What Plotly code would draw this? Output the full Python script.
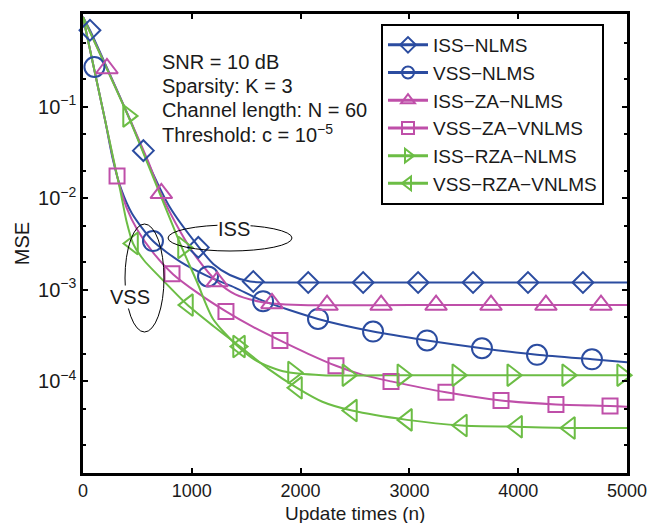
import plotly.graph_objects as go

# ---------------- data ----------------
names = ["ISS−NLMS", "VSS−NLMS", "ISS−ZA−NLMS", "VSS−ZA−VNLMS", "ISS−RZA−NLMS", "VSS−RZA−VNLMS"]
colors = ["#2b4ca0", "#2b4ca0", "#bf4fa9", "#bf4fa9", "#6cbd45", "#6cbd45"]
symbols = ["diamond-open", "circle-open", "triangle-up-open", "square-open", "triangle-right-open", "triangle-left-open"]
marker_sizes = [16, 20, 19, 15, 19, 19]

iss_nlms_n = [0, 64, 200, 432, 600, 800, 1057, 1200, 1350, 1535, 1800, 2500, 3500, 5000]
iss_nlms_mse = [0.95, 0.68, 0.30, 0.072, 0.024, 0.0079, 0.0030, 0.0019, 0.00145, 0.00123, 0.0012, 0.0012, 0.0012, 0.0012]
iss_nlms_mk_n = [64, 555, 1060, 1565, 2070, 2575, 3080, 3585, 4090, 4595]
iss_nlms_mk = [0.68, 0.033, 0.0029, 0.00123, 0.0012, 0.0012, 0.0012, 0.0012, 0.0012, 0.0012]

vss_nlms_n = [0, 202, 276, 350, 450, 643, 900, 1149, 1400, 1650, 2160, 2666, 3162, 3667, 4173, 4678, 5000]
vss_nlms_mse = [0.95, 0.072, 0.026, 0.0126, 0.0068, 0.0034, 0.0020, 0.0014, 0.00105, 0.00076, 0.00048, 0.00035,
                0.00028, 0.00023, 0.000195, 0.000174, 0.000162]
vss_nlms_mk_n = [105, 643, 1149, 1655, 2160, 2666, 3162, 3667, 4173, 4678]
vss_nlms_mk = [0.27, 0.0034, 0.0014, 0.00075, 0.00048, 0.00035, 0.00028, 0.00023, 0.000195, 0.000174]

iss_za_n = [0, 220, 432, 600, 708, 900, 1050, 1232, 1400, 1627, 1740, 2000, 3000, 4000, 5000]
iss_za_mse = [0.95, 0.26, 0.072, 0.025, 0.0117, 0.0042, 0.0022, 0.00123, 0.00089, 0.00074, 0.00071, 0.00068,
              0.00068, 0.00068, 0.00068]
iss_za_mk_n = [220, 720, 1232, 1737, 2243, 2740, 3245, 3750, 4255, 4761]
iss_za_mk = [0.26, 0.0113, 0.00123, 0.00071, 0.00068, 0.00068, 0.00068, 0.00068, 0.00068, 0.00068]

vss_za_n = [0, 202, 313, 400, 500, 650, 827, 1050, 1314, 1550, 1810, 2070, 2325, 2580, 2831, 3336, 3842, 4347, 4844, 5000]
vss_za_mse = [0.95, 0.072, 0.0174, 0.0079, 0.0045, 0.0025, 0.00148, 0.00093, 0.00058, 0.0004, 0.00028, 0.0002,
              0.000148, 0.000117, 0.0001, 0.000076, 0.000062, 0.000056, 0.000054, 0.000053]
vss_za_mk_n = [313, 818, 1314, 1810, 2325, 2831, 3336, 3842, 4347, 4844]
vss_za_mk = [0.0174, 0.0015, 0.00058, 0.00028, 0.000148, 0.0001, 0.000076, 0.000062, 0.000056, 0.000054]

iss_rza_n = [0, 414, 600, 892, 1050, 1195, 1425, 1600, 1838, 2200, 3000, 4000, 5000]
iss_rza_mse = [0.95, 0.079, 0.023, 0.0032, 0.0012, 0.00048, 0.00024, 0.000166, 0.000129, 0.000117, 0.000117,
               0.000117, 0.000117]
iss_rza_mk_n = [414, 919, 1425, 1930, 2430, 2935, 3440, 3945, 4450, 4955]
iss_rza_mk = [0.079, 0.0029, 0.00024, 0.000125, 0.000117, 0.000117, 0.000117, 0.000117, 0.000117, 0.000117]

vss_rza_n = [0, 202, 276, 340, 400, 460, 560, 700, 956, 1200, 1443, 1700, 1967, 2200, 2472, 2978, 3483, 3971, 4476, 5000]
vss_rza_mse = [0.95, 0.072, 0.028, 0.0126, 0.0056, 0.0032, 0.0021, 0.0014, 0.00069, 0.0004, 0.00024, 0.000138,
               0.000085, 0.00006, 0.000048, 0.000038, 0.000033, 0.000032, 0.000031, 0.000031]
vss_rza_mk_n = [460, 965, 1443, 1967, 2472, 2978, 3483, 3990, 4476]
vss_rza_mk = [0.0032, 0.00068, 0.00024, 0.000085, 0.000048, 0.000038, 0.000033, 0.000032, 0.000031]

x_ticks = [0, 1000, 2000, 3000, 4000, 5000]
y_ticks = [1e-1, 1e-2, 1e-3, 1e-4]
y_ticktext = ["10<sup>−1</sup>", "10<sup>−2</sup>", "10<sup>−3</sup>", "10<sup>−4</sup>"]
x_title = "Update times (n)"
y_title = "MSE"

series = [
    (iss_nlms_n, iss_nlms_mse, iss_nlms_mk_n, iss_nlms_mk),
    (vss_nlms_n, vss_nlms_mse, vss_nlms_mk_n, vss_nlms_mk),
    (iss_za_n, iss_za_mse, iss_za_mk_n, iss_za_mk),
    (vss_za_n, vss_za_mse, vss_za_mk_n, vss_za_mk),
    (iss_rza_n, iss_rza_mse, iss_rza_mk_n, iss_rza_mk),
    (vss_rza_n, vss_rza_mse, vss_rza_mk_n, vss_rza_mk),
]

FONT = "Liberation Sans, Arial, sans-serif"
TXT = "#1a1a1a"
FS = 20
fig = go.Figure()

for i, (n, m, mn, mm) in enumerate(series):
    fig.add_trace(go.Scatter(x=n, y=m, mode="lines", line=dict(color=colors[i], width=2, shape="spline", smoothing=0.7),
                             showlegend=False, hoverinfo="skip"))
for i, (n, m, mn, mm) in enumerate(series):
    fig.add_trace(go.Scatter(x=mn, y=mm, mode="markers", cliponaxis=False,
                             marker=dict(symbol=symbols[i], size=marker_sizes[i], color=colors[i],
                                         line=dict(width=2, color=colors[i])),
                             showlegend=False))
for i in range(len(names)):
    fig.add_trace(go.Scatter(x=[None], y=[None], mode="lines+markers", name=names[i], legendgroup=names[i],
                             line=dict(color=colors[i], width=3),
                             marker=dict(symbol=symbols[i], size=12, color=colors[i], line=dict(width=2, color=colors[i]))))

# page body has an 8px margin; plot area in reference pixels: x 83..627, y 14..473
OFF = 8
def px(xp):
    return (xp - 83) / 544.0
def py(yp):
    return (473 - yp) / 459.0

shapes = [
    dict(type="circle", xref="paper", yref="paper", x0=px(168), x1=px(292), y0=py(251), y1=py(225),
         line=dict(color="black", width=1)),
    dict(type="circle", xref="paper", yref="paper", x0=px(125), x1=px(164), y0=py(332), y1=py(224),
         line=dict(color="black", width=1)),
]

ann = []
info = ["SNR = 10 dB", "Sparsity: K = 3", "Channel length: N = 60", "Threshold: c = 10<sup>−5</sup>"]
info_y = [62, 86, 110, 134]
for t, yy in zip(info, info_y):
    ann.append(dict(text=t, xref="paper", yref="paper", x=px(160), y=py(yy), xanchor="left", yanchor="middle",
                    showarrow=False, font=dict(family=FONT, size=FS, color=TXT)))
ann.append(dict(text="ISS", xref="paper", yref="paper", x=px(234), y=py(229), xanchor="center", yanchor="middle",
                showarrow=False, bgcolor="white", borderpad=0, font=dict(family=FONT, size=FS, color=TXT)))
ann.append(dict(text="VSS", xref="paper", yref="paper", x=px(130), y=py(297), xanchor="center", yanchor="middle",
                showarrow=False, bgcolor="white", borderpad=0, font=dict(family=FONT, size=FS, color=TXT)))
ann.append(dict(text=x_title, xref="paper", yref="paper", x=px(355), y=py(513), xanchor="center", yanchor="middle",
                showarrow=False, font=dict(family=FONT, size=19, color=TXT)))

fig.update_layout(
    width=661 - OFF, height=523 - OFF,
    margin=dict(l=83 - OFF, r=34, t=14 - OFF, b=50, autoexpand=False),
    paper_bgcolor="white", plot_bgcolor="white",
    font=dict(family=FONT, size=FS, color=TXT),
    shapes=shapes, annotations=ann,
    legend=dict(x=px(381), y=py(24), xanchor="left", yanchor="top", bgcolor="white",
                bordercolor="black", borderwidth=2, font=dict(family=FONT, size=19, color=TXT),
                tracegroupgap=0, itemwidth=40),
)
fig.update_xaxes(range=[0, 5000], tickvals=x_ticks, ticks="inside", ticklen=5, tickwidth=1.5, tickcolor="black",
                 showline=True, linecolor="black", linewidth=2.5, mirror="ticks", showgrid=False, zeroline=False,
                 automargin=False, tickfont=dict(size=18))
fig.update_yaxes(type="log", range=[-5, 0.01], tickvals=y_ticks, ticktext=y_ticktext, ticks="inside", ticklen=5,
                 tickwidth=1.5, tickcolor="black", showline=True, linecolor="black", linewidth=2.5, mirror="ticks",
                 showgrid=False, zeroline=False, automargin=False,
                 title=dict(text=y_title, standoff=4, font=dict(size=FS)),
                 tickfont=dict(size=FS),
                 minor=dict(ticks="inside", ticklen=3, tickcolor="black", showgrid=False))

fig.write_html("out.html")
